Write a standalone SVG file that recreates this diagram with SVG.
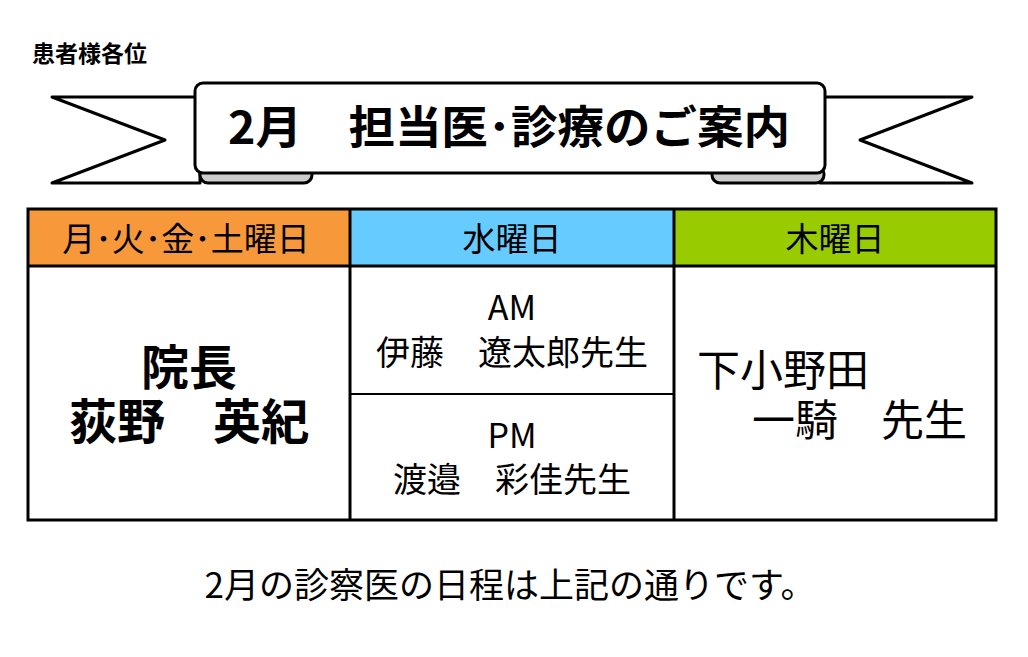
<svg xmlns="http://www.w3.org/2000/svg" width="1028" height="657" viewBox="0 0 1028 657">
<style>
.t{font-family:"Noto Sans CJK JP","Noto Sans CJK SC",sans-serif;fill:#000}
.b{font-weight:bold}
.ln{fill:none;stroke:#000;stroke-width:3}
</style>
<rect width="1028" height="657" fill="#fff"/>
<text class="t b" x="32" y="62" font-size="23">患者様各位</text>
<g id="banner">
<path d="M52 97 L200 97 L200 183 L52 183 L165 140 Z" fill="#fff" stroke="#000" stroke-width="3" stroke-linejoin="round"/>
<path d="M972 97 L820 97 L820 183 L972 183 L860 140 Z" fill="#fff" stroke="#000" stroke-width="3" stroke-linejoin="round"/>
<rect x="200" y="166" width="112" height="17" rx="8" fill="#ccc" stroke="#000" stroke-width="3"/>
<rect x="712" y="166" width="112" height="17" rx="8" fill="#ccc" stroke="#000" stroke-width="3"/>
<rect x="195" y="83" width="630" height="90" rx="8" fill="#fff" stroke="#000" stroke-width="3"/>
<text class="t b" x="509" y="144" font-size="45" text-anchor="middle" textLength="562" lengthAdjust="spacingAndGlyphs">2月　担当医･診療のご案内</text>
</g>
<g id="table">
<rect x="28" y="209" width="322" height="57" fill="#F7993B"/>
<rect x="350" y="209" width="324" height="57" fill="#66CCFF"/>
<rect x="674" y="209" width="322" height="57" fill="#99CC00"/>
<rect x="28" y="209" width="968" height="311" class="ln"/>
<line x1="28" y1="266" x2="996" y2="266" class="ln"/>
<line x1="350" y1="209" x2="350" y2="520" class="ln" stroke-width="2"/>
<line x1="674" y1="209" x2="674" y2="520" class="ln" stroke-width="2"/>
<line x1="350" y1="394" x2="674" y2="394" stroke="#000" stroke-width="2"/>
<text class="t" x="186" y="251" font-size="33" text-anchor="middle">月･火･金･土曜日</text>
<text class="t" x="512" y="251" font-size="33" text-anchor="middle">水曜日</text>
<text class="t" x="835" y="251" font-size="33" text-anchor="middle">木曜日</text>
<text class="t b" x="189" y="385" font-size="48" text-anchor="middle">院長</text>
<text class="t b" x="189" y="439" font-size="48" text-anchor="middle">荻野　英紀</text>
<text class="t" x="512" y="320" font-size="34" text-anchor="middle">AM</text>
<text class="t" x="512" y="365" font-size="34" text-anchor="middle">伊藤　遼太郎先生</text>
<text class="t" x="512" y="448" font-size="34" text-anchor="middle">PM</text>
<text class="t" x="512" y="492" font-size="34" text-anchor="middle">渡邉　彩佳先生</text>
<text class="t" x="697" y="386" font-size="43">下小野田</text>
<text class="t" x="752" y="436" font-size="43">一騎　先生</text>
</g>
<text class="t" x="510" y="598" font-size="35" text-anchor="middle">2月の診察医の日程は上記の通りです。</text>
</svg>
